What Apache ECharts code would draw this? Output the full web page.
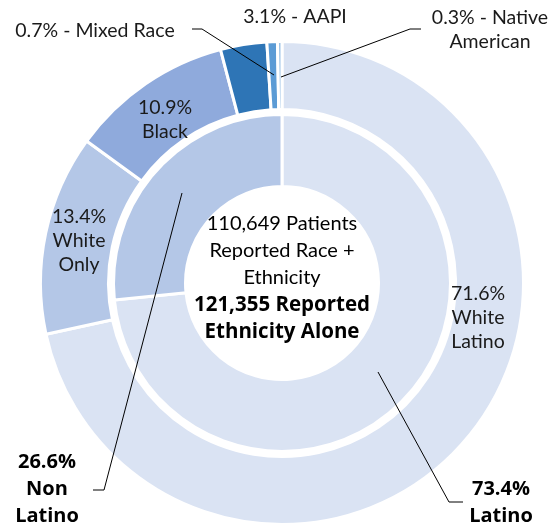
<!DOCTYPE html>
<html>
<head>
<meta charset="utf-8">
<script src="https://cdn.jsdelivr.net/npm/echarts@6/dist/echarts.min.js"></script>
<style>
  html, body { margin: 0; padding: 0; background: #fff; }
  #chart { width: 550px; height: 527px; }
</style>
</head>
<body>
<div id="chart"></div>
<script>
// data
const outerNames = ['White Latino', 'White Only', 'Black', 'AAPI', 'Mixed Race', 'Native American']
const outerValues = [71.6, 13.4, 10.9, 3.1, 0.7, 0.3]
const outerColors = ['#dae3f3', '#b4c7e7', '#8faadc', '#2e75b6', '#5b9bd5', '#9dc3e6']
const innerNames = ['Latino', 'Non Latino']
const innerValues = [73.4, 26.6]
const innerColors = ['#dae3f3', '#b4c7e7']
const centerLines = ['110,649 Patients', 'Reported Race +', 'Ethnicity']
const centerBold = ['121,355 Reported', 'Ethnicity Alone']

const FONT = 'Lato, "Noto Sans", sans-serif'
const BOLD_FONT = '"Open Sans", "Noto Sans", sans-serif'
const CX = 282
const CY = 283

// label placement (centre of each text block) and leader lines
const outerLabelPos = [
  { x: 478, y: 318 },
  { x: 79, y: 241 },
  { x: 165, y: 120 },
  { x: 295, y: 17 },
  { x: 95, y: 31 },
  { x: 490, y: 30 }
]
const innerLabelPos = [
  { x: 501, y: 503 },
  { x: 47, y: 489 }
]
const leaders = [
  [[274, 75], [202, 29], [192, 29]],
  [[281, 77], [410, 29], [421, 29]],
  [[378, 372], [449, 502], [463, 502]],
  [[182, 193], [104, 490], [93, 490]]
]

// how each label reads
const outerText = (name, value, i) => {
  if (i === 3 || i === 4) return value + '% - ' + name
  if (i === 5) return value + '% - Native\nAmerican'
  return value + '%\n' + name.split(' ').join('\n')
}
const innerText = (name, value) => value + '%\n' + name.split(' ').join('\n')

const chart = echarts.init(document.getElementById('chart'))

const option = {
  animation: false,
  graphic: [
    {
      type: 'text',
      x: CX,
      y: 278,
      z: 50,
      style: {
        text: '{n|' + centerLines.join('}\n{n|') + '}\n{b|' + centerBold.join('}\n{b|') + '}',
        align: 'center',
        verticalAlign: 'middle',
        rich: {
          n: { fontFamily: FONT, fontSize: 20, lineHeight: 27, color: '#404040', align: 'center' },
          b: { fontFamily: BOLD_FONT, fontSize: 20.5, fontWeight: 'bold', lineHeight: 27, color: '#404040', align: 'center' }
        }
      }
    }
  ].concat(leaders.map((pts) => ({
    type: 'polyline',
    z: 100,
    shape: { points: pts },
    style: { stroke: '#000', lineWidth: 1, fill: null }
  }))),
  series: [
    {
      type: 'pie',
      center: [CX, CY],
      radius: [173.5, 241.5],
      startAngle: 90,
      clockwise: true,
      avoidLabelOverlap: false,
      emphasis: { disabled: true },
      itemStyle: { borderColor: '#fff', borderWidth: 3 },
      label: {
        show: true,
        position: 'outside',
        fontFamily: FONT,
        fontSize: 19.5,
        lineHeight: 24,
        color: '#1a1a1a',
        formatter: (p) => outerText(p.name, p.value, p.dataIndex)
      },
      labelLine: { show: false },
      labelLayout: (p) => {
        const pos = outerLabelPos[p.dataIndex]
        return { x: pos.x, y: pos.y, align: 'center', verticalAlign: 'middle' }
      },
      data: outerNames.map((n, i) => ({
        name: n,
        value: outerValues[i],
        itemStyle: { color: outerColors[i] }
      }))
    },
    {
      type: 'pie',
      center: [CX, CY],
      radius: [96.5, 168.5],
      startAngle: 90,
      clockwise: true,
      avoidLabelOverlap: false,
      emphasis: { disabled: true },
      itemStyle: { borderColor: '#fff', borderWidth: 3 },
      label: {
        show: true,
        position: 'outside',
        fontFamily: BOLD_FONT,
        fontSize: 20,
        fontWeight: 'bold',
        lineHeight: 27,
        color: '#000',
        formatter: (p) => innerText(p.name, p.value)
      },
      labelLine: { show: false },
      labelLayout: (p) => {
        const pos = innerLabelPos[p.dataIndex]
        return { x: pos.x, y: pos.y, align: 'center', verticalAlign: 'middle' }
      },
      data: innerNames.map((n, i) => ({
        name: n,
        value: innerValues[i],
        itemStyle: { color: innerColors[i] }
      }))
    }
  ]
}

chart.setOption(option)
</script>
</body>
</html>
